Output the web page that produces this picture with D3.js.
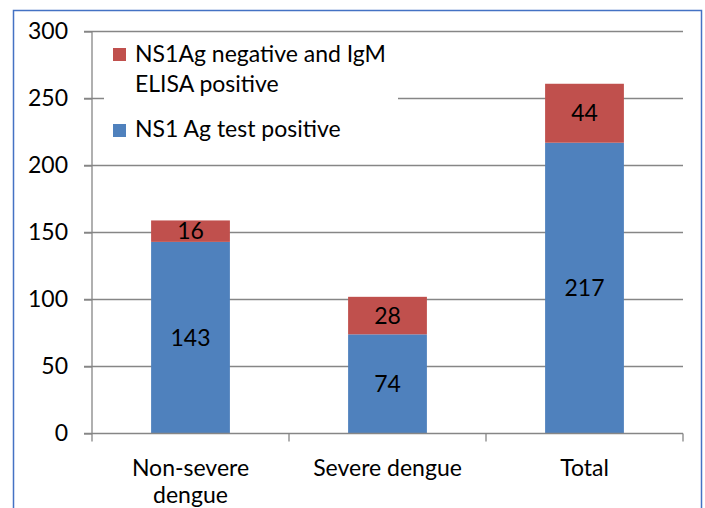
<!DOCTYPE html>
<html>
<head>
<meta charset="utf-8">
<script src="https://cdn.jsdelivr.net/npm/d3@7"></script>
<style>
  body { margin: 0; background: #fff; }
  text { font-family: Lato, "Open Sans", sans-serif; fill: #000; }
</style>
</head>
<body>
<div id="chart"></div>
<script>
// data
var categories = [["Non-severe", "dengue"], ["Severe dengue"], ["Total"]];
var ns1Positive = [143, 74, 217];
var igmPositive = [16, 28, 44];
var seriesNames = ["NS1Ag negative and IgM", "ELISA positive"];
var seriesNames2 = ["NS1 Ag test positive"];
var yTicks = [0, 50, 100, 150, 200, 250, 300];

var W = 705, H = 508;
var fs = 23;
var margin = {top: 31.5, left: 92, right: 22, bottom: 74.5};
var width = W - margin.left - margin.right;
var height = H - margin.top - margin.bottom;

var svg = d3.select("#chart").append("svg")
  .attr("width", W).attr("height", H);

// frame
svg.append("rect")
  .attr("x", 13.5).attr("y", 10.5)
  .attr("width", 688).attr("height", 520)
  .attr("fill", "none").attr("stroke", "#4472c4").attr("stroke-width", 1.5);

var g = svg.append("g")
  .attr("transform", "translate(" + margin.left + "," + margin.top + ")");

var x = d3.scaleBand().domain(d3.range(categories.length)).range([0, width]).paddingInner(0.6).paddingOuter(0.3);
var y = d3.scaleLinear().domain([0, 300]).range([height, 0]);

// gridlines
g.append("g").selectAll("line").data(yTicks.filter(function(d){ return d > 0; }))
  .enter().append("line")
  .attr("x1", -8).attr("x2", width)
  .attr("y1", function(d){ return y(d); }).attr("y2", function(d){ return y(d); })
  .attr("stroke", "#868686").attr("stroke-width", 1.3);

// bars
var stack = categories.map(function(c, i){ return {i: i, a: ns1Positive[i], b: igmPositive[i]}; });
var bars = g.append("g");
bars.selectAll(".blue").data(stack).enter().append("rect")
  .attr("x", function(d){ return x(d.i); })
  .attr("width", x.bandwidth())
  .attr("y", function(d){ return y(d.a); })
  .attr("height", function(d){ return y(0) - y(d.a); })
  .attr("fill", "#4f81bd");
bars.selectAll(".red").data(stack).enter().append("rect")
  .attr("x", function(d){ return x(d.i); })
  .attr("width", x.bandwidth())
  .attr("y", function(d){ return y(d.a + d.b); })
  .attr("height", function(d){ return y(d.a) - y(d.a + d.b); })
  .attr("fill", "#c0504d");

// value labels
bars.selectAll(".lab1").data(stack).enter().append("text")
  .attr("x", function(d){ return x(d.i) + x.bandwidth()/2; })
  .attr("y", function(d){ return y(d.a/2); })
  .attr("dy", "0.35em").attr("text-anchor", "middle").attr("font-size", fs)
  .text(function(d){ return d.a; });
bars.selectAll(".lab2").data(stack).enter().append("text")
  .attr("x", function(d){ return x(d.i) + x.bandwidth()/2; })
  .attr("y", function(d){ return y(d.a + d.b/2); })
  .attr("dy", "0.35em").attr("text-anchor", "middle").attr("font-size", fs)
  .text(function(d){ return d.b; });

// y axis
var yAxis = g.append("g").call(d3.axisLeft(y).tickValues(yTicks).tickSize(8).tickPadding(16));
yAxis.select(".domain").attr("stroke", "#868686").attr("stroke-width", 1.3).attr("d", "M0," + height + "V0");
yAxis.selectAll(".tick line").attr("stroke", "#868686").attr("stroke-width", 1.3);
yAxis.selectAll(".tick text").attr("font-size", fs).style("font-family", "Lato, 'Open Sans', sans-serif");

// x axis
var xBounds = d3.range(categories.length + 1).map(function(i){ return i * width / categories.length; });
var xa = g.append("g").attr("transform", "translate(0," + height + ")");
xa.append("line").attr("x1", -8).attr("x2", width).attr("stroke", "#868686").attr("stroke-width", 1.3);
xa.selectAll(".tk").data(xBounds).enter().append("line")
  .attr("x1", function(d){ return d; }).attr("x2", function(d){ return d; })
  .attr("y1", 0).attr("y2", 8)
  .attr("stroke", "#868686").attr("stroke-width", 1.3);
xa.selectAll(".cat").data(categories).enter().append("text")
  .attr("x", function(d, i){ return x(i) + x.bandwidth()/2; })
  .attr("y", 42).attr("text-anchor", "middle").attr("font-size", fs)
  .each(function(d){
    var t = d3.select(this);
    d.forEach(function(line, k){
      t.append("tspan").attr("x", t.attr("x")).attr("dy", k === 0 ? 0 : 27).text(line);
    });
  });

// legend
var leg = svg.append("g");
leg.append("rect").attr("x", 104).attr("y", 40).attr("width", 294).attr("height", 108).attr("fill", "#fff");
leg.append("rect").attr("x", 113).attr("y", 48).attr("width", 13).attr("height", 13).attr("fill", "#c0504d");
leg.append("rect").attr("x", 113).attr("y", 124).attr("width", 13).attr("height", 13).attr("fill", "#4f81bd");
leg.append("text").attr("x", 135).attr("y", 62).attr("font-size", fs)
  .selectAll("tspan").data(seriesNames).enter().append("tspan")
  .attr("x", 135).attr("dy", function(d, i){ return i === 0 ? 0 : 30; }).text(function(d){ return d; });
leg.append("text").attr("x", 135).attr("y", 137).attr("font-size", fs).text(seriesNames2[0]);
</script>
</body>
</html>
